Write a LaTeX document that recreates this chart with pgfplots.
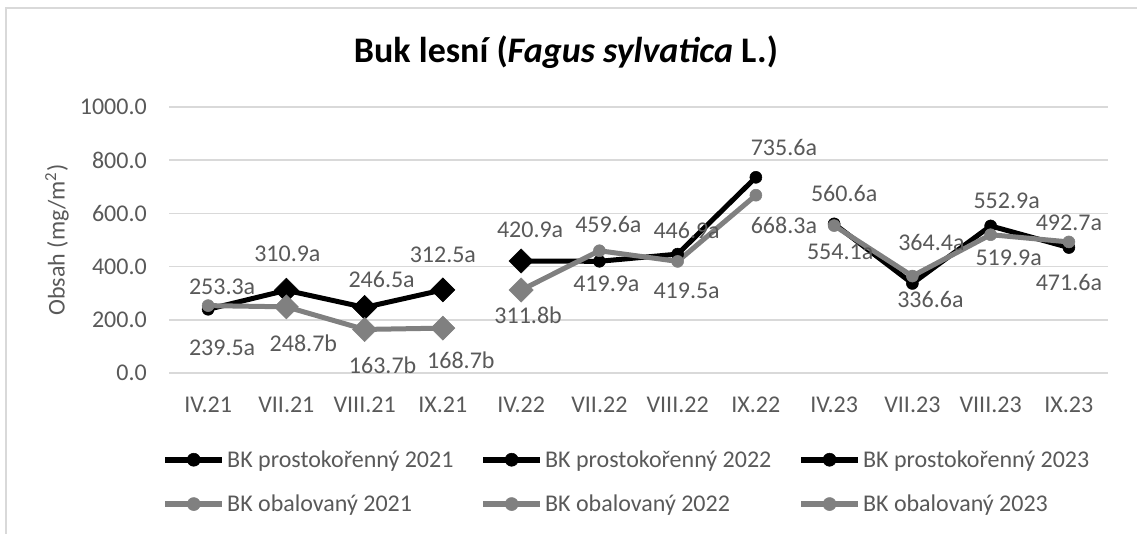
\documentclass[border=0pt]{standalone}
\usepackage{pgfplots}
\pgfplotsset{compat=1.18}
\usepackage{pgfplotstable}
\usepackage{fontspec}
\setmainfont{Carlito}
\definecolor{textgray}{HTML}{595959}
\definecolor{gridgray}{HTML}{D9D9D9}
\definecolor{sgray}{HTML}{808080}

\pgfplotstableread{
x y lab dx dy
0 239.5 239.5a 14 -39
1 310.9 310.9a 1 36
2 246.5 246.5a 17 28
3 312.5 312.5a 0 35
0 253.3 253.3a 14 19
1 248.7 248.7b 17 -36
2 163.7 163.7b 18 -36
3 168.7 168.7b 18 -32
4 420.9 420.9a 9 31.5
5 419.9 419.9a 7 -23
6 446.9 446.9a 9 24
7 735.6 735.6a 28 30
4 311.8 311.8b 7 -25
5 459.6 459.6a 9 26
6 419.5 419.5a 9 -29
7 668.3 668.3a 28 -30
8 560.6 560.6a 10 30
9 336.6 336.6a 18 -16.5
10 552.9 552.9a 16 25
11 471.6 471.6a 0 -35
8 554.1 554.1a 6 -26
9 364.4 364.4a 19 33.5
10 519.9 519.9a 18 -23
11 492.7 492.7a 0 19.5
}\labeltab

\begin{document}
\begin{tikzpicture}
\path[use as bounding box] (0pt,0pt) rectangle (852.75pt,400.5pt);
\draw[gridgray, line width=1.5pt] (4.5pt,0pt) -- (4.5pt,394.5pt) -- (852.75pt,394.5pt);
\node[font=\fontsize{27}{32}\selectfont\bfseries, text=black] at (424.5pt,361.5pt) {Buk lesní (\textit{Fagus sylvatica} L.)};
\node[rotate=90, font=\fontsize{18}{21}\selectfont, text=textgray] at (42.75pt,220.5pt) {Obsah (mg/m\textsuperscript{2})};
\begin{axis}[
  at={(126.75pt,120.75pt)}, anchor=south west,
  scale only axis, width=704.25pt, height=199.5pt,
  xmin=-0.5, xmax=11.5, ymin=0, ymax=1000,
  ytick={0,200,...,1000},
  xtick={0,...,11},
  xticklabels={IV.21,VII.21,VIII.21,IX.21,IV.22,VII.22,VIII.22,IX.22,IV.23,VII.23,VIII.23,IX.23},
  ymajorgrids, grid style={draw=gridgray, line width=1.1pt},
  axis line style={draw=none}, major tick length=0pt,
  tick label style={font=\fontsize{18}{21}\selectfont, text=textgray},
  /pgf/number format/assume math mode=true,
  yticklabel style={/pgf/number format/fixed, /pgf/number format/fixed zerofill, /pgf/number format/precision=1, /pgf/number format/1000 sep={}},
  yticklabel style={anchor=east, inner sep=0pt, xshift=-16.5pt},
  xticklabel style={anchor=center, inner sep=0pt, yshift=-24pt},
  clip=false,
  legend columns=3,
  legend cell align=left,
  legend style={at={(axis description cs:-0.0075,-0.29)}, anchor=north west, draw=none, fill=none,
     inner sep=0pt, font=\fontsize{18}{21}\selectfont, text=textgray, row sep=19.25pt,
     nodes={inner sep=0pt},
     /tikz/every odd column/.append style={column sep=1.5pt},
     /tikz/every even column/.append style={column sep=20pt}},
  legend image code/.code={\draw[mark repeat=2,mark phase=2,#1] plot coordinates {(0pt,0pt) (21.4pt,0pt) (42.75pt,0pt)};},
]
% data labels
\addplot[only marks, mark=*, mark size=0pt, mark options={draw=none, fill=none},
  nodes near coords, point meta=explicit symbolic,
  visualization depends on={\thisrow{dx}\as\dx},
  visualization depends on={\thisrow{dy}\as\dy},
  every node near coord/.append style={anchor=center, inner sep=0pt, font=\fontsize{18}{21}\selectfont, text=textgray, xshift=\dx*0.75pt, yshift=\dy*0.75pt},
  forget plot] table[x=x, y=y, meta=lab] {\labeltab};

% black 2021
\addplot[black, line width=3.75pt, mark=*, mark size=4.5pt, mark options={line width=0.4pt}, mark indices={1}, forget plot]
  coordinates {(0,239.5) (1,310.9) (2,246.5) (3,312.5)};
\addplot[black, only marks, mark=square*, mark size=6.4pt, mark options={rotate=45, line width=0.4pt}, forget plot]
  coordinates {(1,310.9) (2,246.5) (3,312.5)};
% black 2022
\addplot[black, line width=3.75pt, mark=*, mark size=4.5pt, mark options={line width=0.4pt}, mark indices={2,3,4}, forget plot]
  coordinates {(4,420.9) (5,419.9) (6,446.9) (7,735.6)};
\addplot[black, only marks, mark=square*, mark size=6.4pt, mark options={rotate=45, line width=0.4pt}, forget plot]
  coordinates {(4,420.9)};
% black 2023
\addplot[black, line width=3.75pt, mark=*, mark size=4.5pt, mark options={line width=0.4pt}, forget plot]
  coordinates {(8,560.6) (9,336.6) (10,552.9) (11,471.6)};
% gray 2021
\addplot[sgray, line width=3.75pt, mark=*, mark size=4.5pt, mark options={line width=0.4pt}, mark indices={1}, forget plot]
  coordinates {(0,253.3) (1,248.7) (2,163.7) (3,168.7)};
\addplot[sgray, only marks, mark=square*, mark size=6.4pt, mark options={rotate=45, line width=0.4pt}, forget plot]
  coordinates {(1,248.7) (2,163.7) (3,168.7)};
% gray 2022
\addplot[sgray, line width=3.75pt, mark=*, mark size=4.5pt, mark options={line width=0.4pt}, mark indices={2,3,4}, forget plot]
  coordinates {(4,311.8) (5,459.6) (6,419.5) (7,668.3)};
\addplot[sgray, only marks, mark=square*, mark size=6.4pt, mark options={rotate=45, line width=0.4pt}, forget plot]
  coordinates {(4,311.8)};
% gray 2023
\addplot[sgray, line width=3.75pt, mark=*, mark size=4.5pt, mark options={line width=0.4pt}, forget plot]
  coordinates {(8,554.1) (9,364.4) (10,519.9) (11,492.7)};

\addlegendimage{black, line width=4.5pt, mark=*, mark size=4.9pt, mark options={line width=0.4pt}}
\addlegendentry{BK prostokořenný 2021}
\addlegendimage{black, line width=4.5pt, mark=*, mark size=4.9pt, mark options={line width=0.4pt}}
\addlegendentry{BK prostokořenný 2022}
\addlegendimage{black, line width=4.5pt, mark=*, mark size=4.9pt, mark options={line width=0.4pt}}
\addlegendentry{BK prostokořenný 2023}
\addlegendimage{sgray, line width=4.5pt, mark=*, mark size=4.9pt, mark options={line width=0.4pt}}
\addlegendentry{BK obalovaný 2021}
\addlegendimage{sgray, line width=4.5pt, mark=*, mark size=4.9pt, mark options={line width=0.4pt}}
\addlegendentry{BK obalovaný 2022}
\addlegendimage{sgray, line width=4.5pt, mark=*, mark size=4.9pt, mark options={line width=0.4pt}}
\addlegendentry{BK obalovaný 2023}
\end{axis}
\end{tikzpicture}
\end{document}
